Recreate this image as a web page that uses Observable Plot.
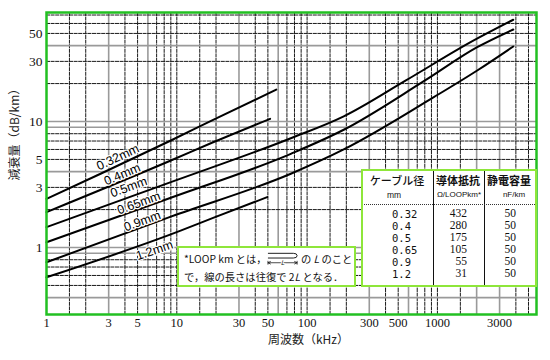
<!DOCTYPE html>
<html><head><meta charset="utf-8">
<script src="https://cdn.jsdelivr.net/npm/d3@7"></script>
<script src="https://cdn.jsdelivr.net/npm/@observablehq/plot@0.6"></script>
<style>
html,body{margin:0;padding:0;background:#fff;}
#wrap{position:relative;width:550px;height:360px;overflow:hidden;}
.box{position:absolute;box-sizing:border-box;border:2.5px solid #8ee63a;background:#fff;}
.t{position:absolute;white-space:nowrap;color:#111;line-height:1;}
#note{font-family:"Noto Sans CJK JP",sans-serif;font-size:10.3px;color:#111;white-space:nowrap;letter-spacing:0px;}
</style>
</head><body>
<div id="wrap"></div>
<script>
// ---- data ----
const cables = ["0.32mm", "0.4mm", "0.5mm", "0.65mm", "0.9mm", "1.2mm"];
const f032 = [1, 2.6, 9, 19, 58];
const a032 = [2.43, 3.85, 7.07, 10.3, 17.9];
const f04 = [1, 9, 19, 52];
const a04 = [1.91, 4.9, 6.84, 10.5];
const f05 = [1, 9, 75, 191, 569, 1900, 3820];
const a05 = [1.45, 3.30, 7.37, 11.0, 21.1, 44, 64.2];
const f065 = [1, 9, 75, 191, 787, 2020, 3820];
const a065 = [1.10, 2.48, 5.54, 8.6, 20.9, 38.9, 53.7];
const f09 = [1, 9, 75, 191, 938, 2020, 3820];
const a09 = [0.764, 1.76, 3.85, 6.0, 15.6, 25.4, 39.4];
const f12 = [1, 10.7, 19, 49.4];
const a12 = [0.58, 1.36, 1.72, 2.51];

// label anchor points (data coordinates)
const labelFreq = [3.53, 3.81, 4.28, 5.11, 5.43, 6.74];
const labelAtt = [5.2, 3.8, 3.01, 2.25, 1.62, 0.95];
const labelAngle = [-25, -23, -20, -20, -20, -19];

const xTicks = [1, 3, 5, 10, 30, 50, 100, 300, 500, 1000, 3000];
const yTicks = [1, 3, 5, 10, 30, 50];

// table values
const diam = ["0.32", "0.4", "0.5", "0.65", "0.9", "1.2"];
const resist = [432, 280, 175, 105, 55, 31];
const capac = [50, 50, 50, 50, 50, 50];

// ---- build ----
const series = [[f032, a032], [f04, a04], [f05, a05], [f065, a065], [f09, a09], [f12, a12]];
const rows = series.flatMap(([f, a], i) => f.map((fx, j) => ({cable: cables[i], f: fx, a: a[j]})));
const labels = cables.map((c, i) => ({c, f: labelFreq[i], a: labelAtt[i], r: labelAngle[i]}));

const decades = [0.1, 1, 10, 100, 1000];
const mult = [1, 1.5, 2, 3, 4, 5, 6, 7, 8, 9];
const lead = v => +(v / Math.pow(10, Math.floor(Math.log10(v)))).toPrecision(2);
const xGrid = decades.flatMap(d => mult.map(m => +(m * d).toPrecision(3))).filter(v => v > 1 && v < 5700);
const xGray = xGrid.filter(v => [3, 6].includes(lead(v)) || v === 2000);
const xBlack = xGrid.filter(v => !xGray.includes(v));
const yGrid = decades.flatMap(d => [1, 2, 3, 4, 5, 6, 7, 8, 9].map(m => +(m * d).toPrecision(3))).filter(v => v > 0.3 && v < 72);
const yGray = yGrid.filter(v => [1, 4, 9].includes(lead(v)));
const yBlack = yGrid.filter(v => !yGray.includes(v));

const chart = Plot.plot({
  width: 550, height: 360,
  marginLeft: 46, marginRight: 14, marginTop: 12, marginBottom: 46,
  style: {fontFamily: "'Liberation Serif', serif", background: "transparent"},
  x: {type: "log", domain: [1, 5760], axis: null},
  y: {type: "log", domain: [0.294, 73.3], axis: null},
  marks: [
    Plot.ruleX(xGray, {x: d => d, stroke: "#9a9a9a", strokeWidth: 1.6}),
    Plot.ruleX(xBlack, {x: d => d, stroke: "#1a1a1a", strokeWidth: 1, strokeDasharray: "4,0.6"}),
    Plot.ruleY(yGray, {y: d => d, stroke: "#9a9a9a", strokeWidth: 1.6}),
    Plot.ruleY(yBlack, {y: d => d, stroke: "#1a1a1a", strokeWidth: 1, strokeDasharray: "4,0.6"}),
    Plot.line(rows, {x: "f", y: "a", z: "cable", stroke: "#000", strokeWidth: 2, curve: "monotone-x"}),
    Plot.text(labels, {x: "f", y: "a", text: "c", rotate: "r", fontSize: 12.5, fontFamily: "'Liberation Sans', sans-serif", fill: "#000", stroke: "#fff", strokeWidth: 2.5}),
    Plot.frame({stroke: "#22c022", strokeWidth: 2.5}),
    Plot.text(xTicks, {x: d => d, text: d => String(d), frameAnchor: "bottom", dy: 12, fontSize: 12.5, fill: "#111"}),
    Plot.text(yTicks, {y: d => d, text: d => String(d), frameAnchor: "left", dx: -4, textAnchor: "end", fontSize: 13.5, fill: "#111"}),
    Plot.text(["周波数（kHz）"], {frameAnchor: "bottom", dx: 17, dy: 29, fontSize: 12, fontFamily: "'Noto Sans CJK JP', sans-serif", fill: "#222"}),
    Plot.text(["減衰量（dB/km）"], {frameAnchor: "left", dx: -31, dy: 17, rotate: -90, fontSize: 12, fontFamily: "'Noto Sans CJK JP', sans-serif", fill: "#222"})
  ]
});
const wrap = document.getElementById("wrap");
chart.style.position = "absolute";
chart.style.left = "0"; chart.style.top = "0";
wrap.appendChild(chart);

// ---- note box ----
const note = document.createElement("div");
note.className = "box";
note.id = "note";
Object.assign(note.style, {left: "177px", top: "246px", width: "179px", height: "41px", padding: "1px 0 0 5px"});
note.innerHTML =
  '<div style="height:19px;line-height:19px">*LOOP km とは，' +
  '<svg width="32" height="15" viewBox="0 0 34 15" style="vertical-align:-3px">' +
  '<path d="M1 2 H28 Q32 2 32 4.5 Q32 7 28 7 H1" fill="none" stroke="#111" stroke-width="1"/>' +
  '<path d="M1 12 H32 M1 10 V14 M32 10 V14 M1 12 l3 -1.5 M1 12 l3 1.5 M32 12 l-3 -1.5 M32 12 l-3 1.5" fill="none" stroke="#111" stroke-width="0.8"/>' +
  '<text x="16.5" y="14.5" font-size="7" font-style="italic" text-anchor="middle" fill="#111" stroke="#fff" stroke-width="2" paint-order="stroke">L</text></svg>' +
  ' の <i>L</i> のこと</div>' +
  '<div style="height:18px;line-height:18px">で，線の長さは往復で 2<i>L</i> となる．</div>';
wrap.appendChild(note);

// ---- table ----
const tbl = document.createElement("div");
tbl.className = "box";
Object.assign(tbl.style, {left: "361px", top: "169px", width: "176px", height: "118px"});
wrap.appendChild(tbl);

function put(text, x, y, align, size, family, weight) {
  const d = document.createElement("div");
  d.className = "t";
  d.textContent = text;
  const tx = align === "left" ? "0" : align === "right" ? "-100%" : "-50%";
  Object.assign(d.style, {left: x + "px", top: y + "px", transform: `translate(${tx},-50%)`,
    fontSize: size + "px", fontFamily: family, fontWeight: weight || "normal"});
  wrap.appendChild(d);
}
function rule(x, y, w, h, style) {
  const d = document.createElement("div");
  Object.assign(d.style, {position: "absolute", left: x + "px", top: y + "px", width: w + "px", height: h + "px"}, style);
  wrap.appendChild(d);
}
rule(432.5, 171, 1, 114, {background: "#111"});
rule(484, 171, 1, 114, {background: "#111"});
rule(364, 204, 171, 0, {borderTop: "1px dotted #333"});

const jp = "'Noto Sans CJK JP', sans-serif";
put("ケーブル径", 397, 180, "center", 11, jp, 500);
put("導体抵抗", 458, 180, "center", 11, jp, 700);
put("静電容量", 509, 180, "center", 11, jp, 700);
put("mm", 394, 195, "center", 8.5, "'Liberation Sans', sans-serif");
put("Ω/LOOPkm*", 459, 195, "center", 8, "'Liberation Sans', sans-serif");
put("nF/km", 514, 195, "center", 8, "'Liberation Sans', sans-serif");
diam.forEach((v, i) => {
  const y = 214 + 12 * i;
  put(v, 392, y, "left", 10.5, "'DejaVu Sans Mono', monospace");
  put(String(resist[i]), 467, y, "right", 11.5, "'Liberation Serif', serif");
  put(String(capac[i]), 516, y, "right", 11.5, "'Liberation Serif', serif");
});
</script>
</body></html>
